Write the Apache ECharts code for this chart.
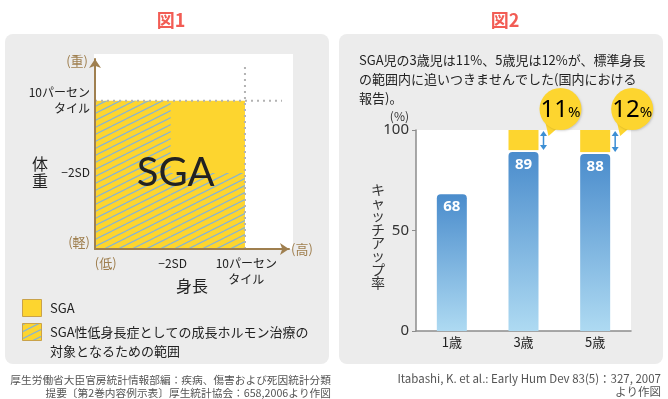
<!DOCTYPE html>
<html>
<head>
<meta charset="utf-8">
<script src="https://cdn.jsdelivr.net/npm/echarts@6/dist/echarts.min.js"></script>
<style>
html, body { margin: 0; padding: 0; background: #fff; }
#main { width: 668px; height: 399px; }
</style>
</head>
<body>
<div id="main"></div>
<script>
// 図1 (模式図, 0-100 の相対位置)
var f1XPos = [5.5, 40, 78];
var f1XLabels = ['(低)', '−2SD', '10パーセン\nタイル'];
var f1YPos = [3.7, 40.5, 78];
var f1YLabels = ['(軽)', '−2SD', '10パーセン\nタイル'];
var sdCut = [39, 40];      // -2SD (身長, 体重)
var pctCut = [77.3, 78];   // 10パーセンタイル (身長, 体重)
var guideEnd = [96.4, 96]; // 点線の端

// 図2
var ages = ['1歳', '3歳', '5歳'];
var catchUp = [68, 89, 88];
var notCaught = [null, 11, 12];
var yTicks = [0, 50, 100];

var FONT = '"Noto Sans CJK JP", "Noto Sans", sans-serif';
var YELLOW = '#fdd52f';
var BROWN = '#9f7f4f';
var ARROW = '#3d8fd4';

// 斜線パターン
function makeHatch() {
  var c = document.createElement('canvas');
  c.width = 14; c.height = 7;
  var g = c.getContext('2d');
  g.strokeStyle = '#86b4d6';
  g.lineWidth = 1.2;
  [-7, 0, 7].forEach(function (k) {
    g.beginPath();
    g.moveTo(0, 7 + k);
    g.lineTo(14, k);
    g.stroke();
  });
  return c;
}
var hatch = { image: makeHatch(), repeat: 'repeat' };

var chart = echarts.init(document.getElementById('main'));

function regionItem(params, api) {
  var p0 = api.coord([api.value(0), api.value(1)]);
  var p1 = api.coord([api.value(2), api.value(3)]);
  return {
    type: 'rect',
    shape: { x: p0[0], y: p1[1], width: p1[0] - p0[0], height: p0[1] - p1[1] },
    style: { fill: api.value(4) ? hatch : YELLOW }
  };
}

function sgaTextItem(params, api) {
  var p = api.coord([api.value(0), api.value(1)]);
  return {
    type: 'text',
    style: {
      text: 'SGA', x: p[0] + 5, y: p[1], align: 'center', verticalAlign: 'middle',
      font: '40px Lato, "Noto Sans", sans-serif', fill: '#222'
    }
  };
}

function gapItem(params, api) {
  var i = api.value(0), base = api.value(1), gap = api.value(2);
  var lo = api.coord([i, base]);
  var hi = api.coord([i, base + gap]);
  var cx = lo[0], half = 15;
  var y0 = hi[1], y1 = lo[1] - 2;
  var ax = cx + 20;
  var bx = cx + 37, by = y0 - 21, r = 21;
  return {
    type: 'group',
    children: [
      { type: 'rect', shape: { x: cx - half, y: y0, width: half * 2, height: y1 - y0 }, style: { fill: YELLOW } },
      { type: 'line', shape: { x1: ax, y1: y0 + 4, x2: ax, y2: y1 - 4 }, style: { stroke: ARROW, lineWidth: 1.5 } },
      { type: 'polygon', shape: { points: [[ax, y0 + 1], [ax - 3.5, y0 + 6], [ax + 3.5, y0 + 6]] }, style: { fill: ARROW } },
      { type: 'polygon', shape: { points: [[ax, y1], [ax - 3.5, y1 - 5], [ax + 3.5, y1 - 5]] }, style: { fill: ARROW } },
      { type: 'polygon', shape: { points: [[bx - 4, by + 20], [bx - 15, by + 14], [cx + 25, y0 + 6]] }, style: { fill: YELLOW } },
      { type: 'circle', shape: { cx: bx, cy: by, r: r }, style: { fill: YELLOW, shadowBlur: 2, shadowOffsetX: 1, shadowOffsetY: 1, shadowColor: 'rgba(0,0,0,0.15)' } },
      {
        type: 'text',
        style: {
          text: '{n|' + gap + '}{p|%}', x: bx, y: by + 1, align: 'center', verticalAlign: 'middle',
          rich: {
            n: { fontSize: 24, fontFamily: '"Noto Sans", sans-serif', color: '#2a2a2a' },
            p: { fontSize: 15, fontFamily: '"Noto Sans", sans-serif', color: '#2a2a2a', padding: [6, 0, 0, 0] }
          }
        }
      }
    ]
  };
}

function lookup(pos, labels) {
  return function (v) {
    var k = pos.indexOf(v);
    if (k < 0) return '';
    return k === 0 ? '{b|' + labels[k] + '}' : labels[k];
  };
}

var regions = [
  [0, 0, pctCut[0], pctCut[1], 0],
  [0, 0, sdCut[0], pctCut[1], 1],
  [sdCut[0], 0, pctCut[0], sdCut[1], 1]
];

var gapData = [];
ages.forEach(function (a, i) {
  if (notCaught[i] != null) gapData.push([i, catchUp[i], notCaught[i]]);
});

var f1Label = {
  fontFamily: FONT, fontSize: 12, color: '#222', lineHeight: 16,
  rich: { b: { color: BROWN, fontSize: 13, fontFamily: FONT } }
};

chart.setOption({
  animation: false,
  textStyle: { fontFamily: FONT },
  title: [
    { text: '図1', left: 166, top: 6, textAlign: 'center', textStyle: { color: '#f25c54', fontSize: 18, fontWeight: 'bold', fontFamily: FONT } },
    { text: '図2', left: 500, top: 6, textAlign: 'center', textStyle: { color: '#f25c54', fontSize: 18, fontWeight: 'bold', fontFamily: FONT } }
  ],
  graphic: [
    { type: 'rect', z: -10, shape: { x: 5, y: 34, width: 324, height: 330, r: 8 }, style: { fill: '#ececec' } },
    { type: 'rect', z: -10, shape: { x: 339, y: 34, width: 324, height: 330, r: 8 }, style: { fill: '#ececec' } },
    { type: 'rect', z: -9, shape: { x: 94, y: 54, width: 199, height: 195 }, style: { fill: '#fff' } },
    { type: 'text', style: { text: '体\n重', x: 40, y: 172, align: 'center', verticalAlign: 'middle', font: '16px ' + FONT, fill: '#222', lineHeight: 17 } },
    { type: 'text', style: { text: '身長', x: 192, y: 286, align: 'center', verticalAlign: 'middle', font: '16px ' + FONT, fill: '#222' } },
    { type: 'rect', shape: { x: 22.5, y: 299.5, width: 19, height: 17 }, style: { fill: YELLOW, stroke: '#c9a24a', lineWidth: 1 } },
    { type: 'rect', shape: { x: 22.5, y: 323.5, width: 19, height: 17 }, style: { fill: YELLOW, stroke: '#c9a24a', lineWidth: 1 } },
    { type: 'rect', shape: { x: 23, y: 324, width: 18, height: 16 }, style: { fill: hatch } },
    { type: 'text', style: { text: 'SGA', x: 50, y: 308, verticalAlign: 'middle', font: '13px ' + FONT, fill: '#222' } },
    { type: 'text', style: { text: 'SGA性低身長症としての成長ホルモン治療の\n対象となるための範囲', x: 50, y: 323, verticalAlign: 'top', font: '13px ' + FONT, fill: '#222', lineHeight: 19 } },
    { type: 'text', style: { text: '厚生労働省大臣官房統計情報部編：疾病、傷害および死因統計分類\n提要〔第2巻内容例示表〕厚生統計協会：658,2006より作図', x: 331, y: 373, align: 'right', verticalAlign: 'top', font: '10.7px ' + FONT, fill: '#555', lineHeight: 13 } },
    { type: 'text', style: { text: 'SGA児の3歳児は11%、5歳児は12%が、標準身長\nの範囲内に追いつきませんでした(国内における\n報告)。', x: 359, y: 51, verticalAlign: 'top', font: '13px ' + FONT, fill: '#222', lineHeight: 19 } },
    { type: 'text', style: { text: 'キ\nャ\nッ\nチ\nア\nッ\nプ\n率', x: 378, y: 236, align: 'center', verticalAlign: 'middle', font: '14px ' + FONT, fill: '#333', lineHeight: 13.3 } },
    { type: 'text', style: { text: 'Itabashi, K. et al.: Early Hum Dev 83(5)：327, 2007\nより作図', x: 661, y: 372, align: 'right', verticalAlign: 'top', font: '11.5px ' + FONT, fill: '#555', lineHeight: 13 } }
  ],
  grid: [
    { left: 95, top: 59, width: 194, height: 190 },
    { left: 416, top: 130, width: 215, height: 201, show: true, backgroundColor: '#fff', borderWidth: 0 }
  ],
  xAxis: [
    {
      gridIndex: 0, type: 'value', min: 0, max: 100, z: 5,
      name: '(高)', nameLocation: 'end', nameGap: 2,
      nameTextStyle: { color: BROWN, fontSize: 13, fontFamily: FONT, padding: [24, 0, 0, 0], verticalAlign: 'middle' },
      axisLine: { lineStyle: { color: BROWN, width: 2 }, symbol: ['none', 'arrow'], symbolSize: [9, 9] },
      axisTick: { show: false },
      splitLine: { show: false },
      axisLabel: Object.assign({ customValues: f1XPos, formatter: lookup(f1XPos, f1XLabels), margin: 6, verticalAlign: 'top' }, f1Label)
    },
    {
      gridIndex: 1, type: 'category', data: ages,
      axisLine: { lineStyle: { color: '#8c8c8c', width: 1.5 } },
      axisTick: { show: false },
      axisLabel: { fontFamily: FONT, fontSize: 13, color: '#222', margin: 5 }
    }
  ],
  yAxis: [
    {
      gridIndex: 0, type: 'value', min: 0, max: 100, z: 5,
      name: '(重)', nameLocation: 'end', nameGap: -2,
      nameTextStyle: { color: BROWN, fontSize: 13, fontFamily: FONT, align: 'right', verticalAlign: 'middle', padding: [0, 7, 0, 0] },
      axisLine: { lineStyle: { color: BROWN, width: 2 }, symbol: ['none', 'arrow'], symbolSize: [9, 9] },
      axisTick: { show: false },
      splitLine: { show: false },
      axisLabel: Object.assign({ customValues: f1YPos, formatter: lookup(f1YPos, f1YLabels), margin: 5 }, f1Label)
    },
    {
      gridIndex: 1, type: 'value', min: 0, max: 100, interval: 50,
      name: '(%)', nameLocation: 'end', nameGap: 8,
      nameTextStyle: { color: '#333', fontSize: 12, fontFamily: FONT, align: 'right', padding: [0, 7, 0, 0] },
      axisLine: { show: true, lineStyle: { color: '#8c8c8c', width: 1.5 } },
      axisTick: { show: true, length: 4, lineStyle: { color: '#8c8c8c' } },
      splitLine: { show: false },
      axisLabel: {
        customValues: yTicks, margin: 7, fontSize: 15, color: '#333', fontFamily: '"Noto Sans", sans-serif'
      }
    }
  ],
  series: [
    { type: 'custom', xAxisIndex: 0, yAxisIndex: 0, renderItem: regionItem, data: regions, z: 2 },
    {
      type: 'line', xAxisIndex: 0, yAxisIndex: 0, symbol: 'none', z: 3,
      lineStyle: { color: '#b3b3b3', width: 2, type: [2, 4] },
      data: [[0, pctCut[1]], [guideEnd[0], pctCut[1]]]
    },
    {
      type: 'line', xAxisIndex: 0, yAxisIndex: 0, symbol: 'none', z: 3,
      lineStyle: { color: '#b3b3b3', width: 2, type: [2, 4] },
      data: [[pctCut[0], 0], [pctCut[0], guideEnd[1]]]
    },
    { type: 'custom', xAxisIndex: 0, yAxisIndex: 0, renderItem: sgaTextItem, data: [sdCut], z: 4 },
    {
      type: 'bar', xAxisIndex: 1, yAxisIndex: 1, data: catchUp, barWidth: 30,
      itemStyle: {
        borderRadius: [4, 4, 0, 0],
        color: new echarts.graphic.LinearGradient(0, 0, 0, 1, [
          { offset: 0, color: '#4a8ccc' },
          { offset: 1, color: '#aedaf2' }
        ])
      },
      label: {
        show: true, position: 'insideTop', distance: 5, color: '#fff',
        fontWeight: 'bold', fontSize: 15, fontFamily: '"Noto Sans", sans-serif'
      }
    },
    { type: 'custom', xAxisIndex: 1, yAxisIndex: 1, renderItem: gapItem, data: gapData, z: 5, clip: false }
  ]
});
</script>
</body>
</html>
